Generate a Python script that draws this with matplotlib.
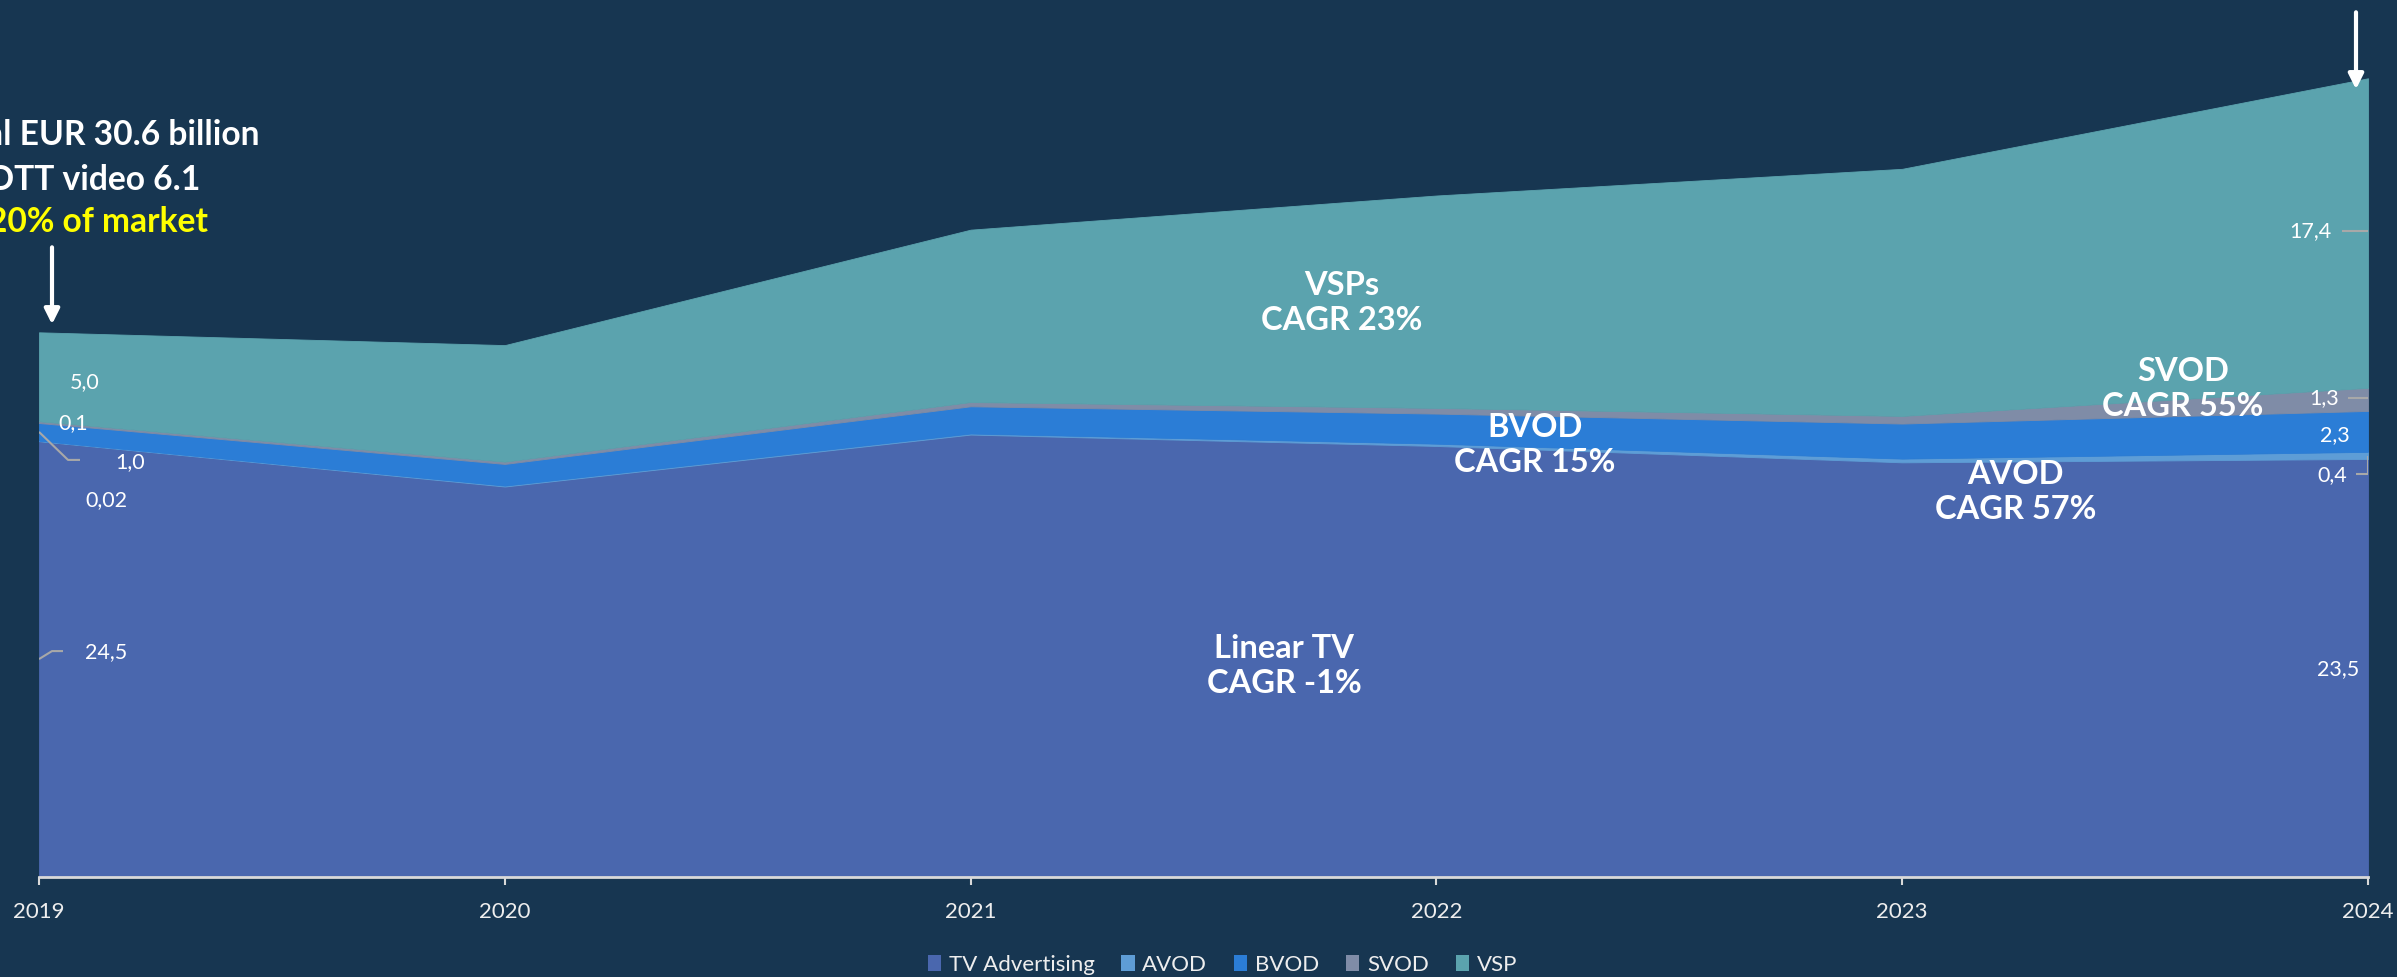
import matplotlib
matplotlib.use("Agg")
import matplotlib.pyplot as plt
from matplotlib.patches import Patch
import numpy as np

# ---------------- data ----------------
years = [2019, 2020, 2021, 2022, 2023, 2024]
series_names = ["TV Advertising", "AVOD", "BVOD", "SVOD", "VSP"]
tv_adv = [24.5, 21.95, 24.87, 24.23, 23.31, 23.5]
avod = [0.02, 0.05, 0.06, 0.13, 0.21, 0.4]
bvod = [1.0, 1.22, 1.53, 1.69, 1.97, 2.3]
svod = [0.1, 0.13, 0.24, 0.32, 0.43, 1.3]
vsp = [5.0, 6.55, 9.69, 11.94, 13.89, 17.4]
first_labels = ["24,5", "0,02", "1,0", "0,1", "5,0"]
last_labels = ["23,5", "0,4", "2,3", "1,3", "17,4"]
cagr_texts = ["Linear TV\nCAGR -1%", "AVOD\nCAGR 57%", "BVOD\nCAGR 15%",
              "SVOD\nCAGR 55%", "VSPs\nCAGR 23%"]
note_lines = ["Total EUR 30.6 billion", "OTT video 6.1", "20% of market"]

colors = ["#4a67ae", "#5e9dd6", "#2b7dd6", "#7f8ca7", "#5ba3ae"]
BG = "#173651"
FONT = "Lato"

plt.rcParams["font.family"] = [FONT, "DejaVu Sans"]

W, H = 2397, 977
fig = plt.figure(figsize=(W / 100, H / 100), dpi=100, facecolor=BG)
ax_l, ax_r, ax_b = 39, 2368, 877
ax = fig.add_axes([ax_l / W, (H - ax_b) / H, (ax_r - ax_l) / W, ax_b / H])
ax.set_facecolor(BG)

ymax = 49.3
ax.set_xlim(years[0], years[-1])
ax.set_ylim(0, ymax)

series = [tv_adv, avod, bvod, svod, vsp]
ax.stackplot(years, *series, colors=colors, edgecolor="face", linewidth=0.6,
             labels=series_names, zorder=2)

# pixel -> data scale
ppx = (ax_r - ax_l) / (years[-1] - years[0])  # px per year
ppy = ax_b / ymax                              # px per unit

arr = np.array(series)
cum = np.cumsum(arr, axis=0)
bottoms = cum - arr
mids = bottoms + arr / 2
totals = cum[-1]


def dx(px):
    return px / ppx


def dy(px):
    return px / ppy


# ---------- spines / ticks ----------
for s in ["top", "right", "left"]:
    ax.spines[s].set_visible(False)
ax.spines["bottom"].set_color("#d9d9d9")
ax.spines["bottom"].set_linewidth(2)
ax.spines["bottom"].set_zorder(5)
ax.set_yticks([])
ax.set_xticks(years)
ax.set_xticklabels([str(y) for y in years])
ax.tick_params(axis="x", colors="#d9d9d9", length=6, width=1.5, pad=12,
               labelsize=16, labelcolor="#eeeeee")

# ---------- value labels: first year ----------
lab_kw = dict(color="white", fontsize=15.5, va="center", zorder=6)
x0 = years[0]
first_pos = {0: (46, 7), 1: (46, -59), 2: (76, -30), 3: (19, -1), 4: (31, -5)}
for i, (ox, oy) in first_pos.items():
    ax.text(x0 + dx(ox), mids[i][0] + dy(oy), first_labels[i], ha="left", **lab_kw)
lead_kw = dict(color="#a8a8a8", lw=1.5, zorder=6, solid_capstyle="butt")
m = mids[2][0]
ax.plot([x0, x0 + dx(29), x0 + dx(41)], [m, m - dy(28), m - dy(28)], **lead_kw)
m = mids[0][0]
ax.plot([x0, x0 + dx(13), x0 + dx(24)], [m, m + dy(8), m + dy(8)], **lead_kw)

# ---------- value labels: last year ----------
x1 = years[-1]
last_pos = {0: (-9, -1), 1: (-21, -20), 2: (-18, -4), 3: (-29, 1), 4: (-36, 2)}
for i, (ox, oy) in last_pos.items():
    ax.text(x1 + dx(ox), mids[i][-1] + dy(oy), last_labels[i], ha="right", **lab_kw)
m = mids[4][-1]
ax.plot([x1 - dx(26), x1], [m + dy(2), m + dy(2)], **lead_kw)
m = mids[3][-1]
ax.plot([x1 - dx(20), x1], [m + dy(1), m + dy(1)], **lead_kw)
m = mids[1][-1]
ax.plot([x1, x1, x1 - dx(12)], [m - dy(1), m - dy(19), m - dy(19)], **lead_kw)

# ---------- CAGR labels ----------
cagr_pos = [(2021.673, 11.85), (2023.244, 21.66), (2022.212, 24.30),
            (2023.603, 27.44), (2021.797, 32.28)]
for (cx, cy), t in zip(cagr_pos, cagr_texts):
    ax.text(cx, cy, t, ha="center", va="center", color="white", fontsize=23.5,
            fontweight="bold", linespacing=1.25, zorder=6)

# ---------- left note ----------
note_right = [260, 200, 208]
note_base = [145, 190, 232]
note_cols = ["white", "white", "#ffff00"]
for t, r, b, c in zip(note_lines, note_right, note_base, note_cols):
    ax.text(x0 + dx(r - ax_l), (ax_b - b) / ppy, t, ha="right", va="baseline",
            color=c, fontsize=24.2, fontweight="bold", clip_on=False, zorder=7)

# ---------- arrows ----------
arrow_kw = dict(arrowstyle="-|>,head_length=0.9,head_width=0.45", color="white",
                lw=3, shrinkA=0, shrinkB=0)
ax.annotate("", xy=(x0 + dx(13), totals[0] + dy(8)),
            xytext=(x0 + dx(13), totals[0] + dy(85)),
            arrowprops=arrow_kw, annotation_clip=False, zorder=8)
ax.annotate("", xy=(x1 - dx(12), totals[-1] - dy(11)),
            xytext=(x1 - dx(12), totals[-1] + dy(66)),
            arrowprops=arrow_kw, annotation_clip=False, zorder=8)

# ---------- legend ----------
handles = [Patch(facecolor=c, edgecolor="none", label=n) for c, n in zip(colors, series_names)]
leg = fig.legend(handles=handles, loc="center", bbox_to_anchor=(0.510, 12 / H),
                 ncol=5, frameon=False, fontsize=16, handlelength=0.6,
                 handleheight=0.75, handletextpad=0.35, columnspacing=1.2,
                 labelcolor="#eeeeee")

fig.savefig("out.png", dpi=100, facecolor=BG)
